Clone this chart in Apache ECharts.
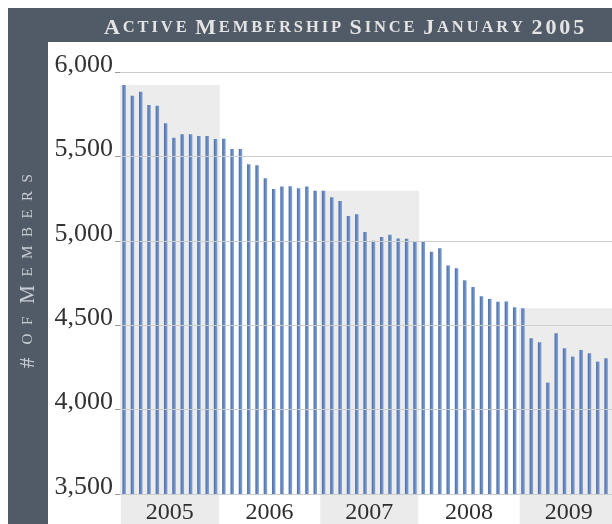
<!DOCTYPE html>
<html>
<head>
<meta charset="utf-8">
<script src="https://cdn.jsdelivr.net/npm/echarts@6/dist/echarts.min.js"></script>
<style>
html,body{margin:0;padding:0;background:#fff;}
#c{width:612px;height:524px;}
</style>
</head>
<body>
<div id="c"></div>
<script>
// ---- data ----
const years = ['2005', '2006', '2007', '2008', '2009'];
const monthNames = ['Jan','Feb','Mar','Apr','May','Jun','Jul','Aug','Sep','Oct','Nov','Dec'];
const members2005 = [5923, 5860, 5883, 5805, 5800, 5696, 5611, 5631, 5631, 5621, 5621, 5603];
const members2006 = [5605, 5544, 5544, 5454, 5447, 5370, 5307, 5321, 5323, 5311, 5321, 5297];
const members2007 = [5297, 5258, 5236, 5147, 5158, 5052, 5000, 5023, 5036, 5013, 5012, 4998];
const members2008 = [4995, 4935, 4956, 4854, 4837, 4766, 4726, 4671, 4656, 4639, 4641, 4606];
const members2009 = [4600, 4422, 4399, 4160, 4452, 4363, 4314, 4353, 4334, 4284, 4304, 4255];
const shadedYears = ['2005', '2007', '2009'];
const yTicks = [3500, 4000, 4500, 5000, 5500, 6000];
const titleText = 'Active Membership Since January 2005';
const yAxisTitle = '# of Members';

// ---- derived ----
const byYear = [members2005, members2006, members2007, members2008, members2009];
const monthCats = [];
const values = [];
years.forEach((y, i) => {
  byYear[i].forEach((v, m) => { monthCats.push(monthNames[m] + ' ' + y); values.push(v); });
});
const bandValues = years.map((y, i) => shadedYears.includes(y) ? Math.max(...byYear[i]) : '-');

function smallCaps(str) {
  let out = '';
  const chars = [...str];
  chars.forEach((c, i) => {
    if (c === ' ') { out += '{w| }'; return; }
    const isLower = c !== c.toUpperCase();
    out += isLower ? '{s|' + c.toUpperCase() + '}' : '{b|' + c + '}';
    const next = chars[i + 1];
    if (next && next !== ' ') out += '{g| }';
  });
  return out;
}

const serif = '"Liberation Serif", "DejaVu Serif", serif';
const chart = echarts.init(document.getElementById('c'), null, {renderer: 'canvas'});

chart.setOption({
  animation: false,
  backgroundColor: '#ffffff',
  graphic: [
    {type: 'rect', z: -10, shape: {x: 8, y: 8, width: 620, height: 530}, style: {fill: '#515a67'}, silent: true},
    {type: 'rect', z: -9, shape: {x: 48, y: 42, width: 600, height: 500}, style: {fill: '#ffffff'}, silent: true},
    {
      type: 'text', z: 10, x: 28, y: 271, rotation: Math.PI / 2, silent: true,
      style: {
        text: smallCaps(yAxisTitle), align: 'center', verticalAlign: 'middle', fill: '#c9cdd3',
        rich: {
          b: {fontFamily: serif, fontSize: 21, lineHeight: 22, fill: '#c9cdd3', color: '#c9cdd3'},
          s: {fontFamily: serif, fontSize: 15, lineHeight: 22, fill: '#c9cdd3', color: '#c9cdd3'},
          g: {fontFamily: serif, fontSize: 15, lineHeight: 22, width: 8.5},
          w: {fontFamily: serif, fontSize: 15, lineHeight: 22, width: 13}
        }
      }
    }
  ],
  title: {
    text: smallCaps(titleText),
    left: 99, top: 11,
    textStyle: {
      color: '#e4e4e4',
      rich: {
        b: {fontFamily: serif, fontSize: 22, lineHeight: 24, color: '#e4e4e4'},
        s: {fontFamily: serif, fontSize: 16.5, lineHeight: 24, color: '#e4e4e4'},
        g: {fontFamily: serif, fontSize: 16, lineHeight: 24, width: 2.9},
        w: {fontFamily: serif, fontSize: 16, lineHeight: 24, width: 8.5}
      }
    }
  },
  grid: {left: 120, right: -6.6, top: 72, bottom: 30, containLabel: false, outerBoundsMode: 'none'},
  xAxis: [
    {
      type: 'category', data: monthCats, boundaryGap: true,
      axisLine: {show: true, lineStyle: {color: '#cfcfcf', width: 1}},
      axisTick: {show: false}, axisLabel: {show: false}, splitLine: {show: false}
    },
    {
      type: 'category', data: years, position: 'bottom', boundaryGap: true,
      axisLine: {show: false}, axisTick: {show: false}, splitLine: {show: false},
      axisLabel: {
        interval: 0, margin: 1,
        formatter: v => shadedYears.includes(v) ? '{s|' + v + '}' : '{n|' + v + '}',
        rich: {
          s: {backgroundColor: '#ebebeb', width: 98, height: 35, lineHeight: 35, align: 'center',
              fontFamily: serif, fontSize: 24, color: '#2e2e2e'},
          n: {width: 98, height: 35, lineHeight: 35, align: 'center',
              fontFamily: serif, fontSize: 24, color: '#2e2e2e'}
        }
      }
    }
  ],
  yAxis: {
    type: 'value', min: yTicks[0], max: yTicks[yTicks.length - 1], interval: 500, z: 3,
    axisLine: {show: false},
    axisTick: {show: true, length: 5, lineStyle: {color: '#9a9a9a'}},
    splitLine: {show: true, lineStyle: {color: '#cdcdcd', width: 1}},
    axisLabel: {
      margin: 7, fontFamily: serif, fontSize: 26, color: '#333333',
      verticalAlign: 'bottom', lineHeight: 14,
      formatter: v => v.toLocaleString('en-US')
    }
  },
  series: [
    {
      type: 'bar', xAxisIndex: 1, data: bandValues, barWidth: '100%', silent: true, z: 1,
      itemStyle: {color: '#ececec'}
    },
    {
      type: 'bar', xAxisIndex: 0, data: values, barWidth: 3.5, z: 2,
      itemStyle: {
        color: new echarts.graphic.LinearGradient(0, 0, 1, 0, [
          {offset: 0, color: '#4a6ca8'}, {offset: 1, color: '#84a7d6'}
        ])
      }
    }
  ]
});
</script>
</body>
</html>
